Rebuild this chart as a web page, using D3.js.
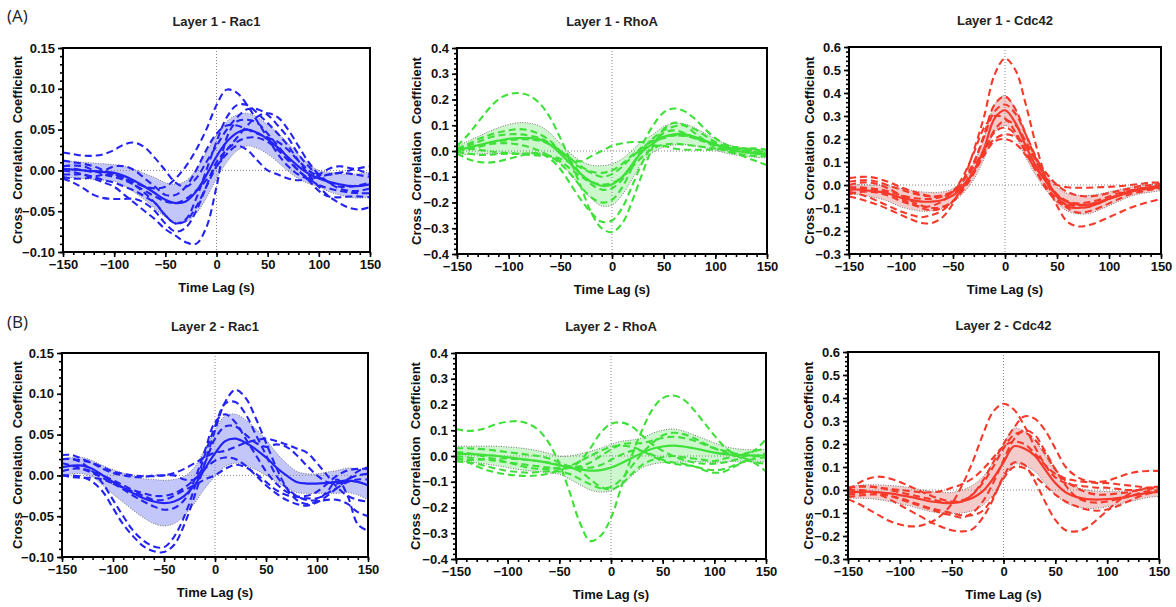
<!DOCTYPE html>
<html><head><meta charset="utf-8">
<script src="https://cdn.jsdelivr.net/npm/d3@7"></script>
<style>body{margin:0;background:#fff}svg{display:block}text{font-family:"Liberation Sans",Arial,sans-serif}</style>
</head><body>
<svg id="chart" width="1176" height="607"></svg>
<script>
// ---------- data ----------
const lags = [-150,-140,-130,-120,-110,-100,-90,-80,-70,-60,-50,-40,-30,-20,-10,0,10,20,30,40,50,60,70,80,90,100,110,120,130,140,150];
const xTicks = [-150,-100,-50,0,50,100,150];
const yTicksRac1 = [-0.10,-0.05,0.00,0.05,0.10,0.15];
const yTicksRhoA = [-0.4,-0.3,-0.2,-0.1,0.0,0.1,0.2,0.3,0.4];
const yTicksCdc42 = [-0.3,-0.2,-0.1,0.0,0.1,0.2,0.3,0.4,0.5,0.6];
const titles = ["Layer 1 - Rac1","Layer 1 - RhoA","Layer 1 - Cdc42","Layer 2 - Rac1","Layer 2 - RhoA","Layer 2 - Cdc42"];
const rowLabels = ["(A)","(B)"];

// Layer 1 - Rac1
const l1Rac1Mean = [0.002,0.001,0.0,-0.001,-0.002,-0.003,-0.007,-0.013,-0.02,-0.028,-0.036,-0.04,-0.038,-0.026,-0.006,0.017,0.035,0.046,0.05,0.046,0.038,0.028,0.016,0.005,-0.004,-0.01,-0.014,-0.017,-0.019,-0.019,-0.017];
const l1Rac1Sd = [0.01,0.01,0.01,0.01,0.01,0.01,0.012,0.014,0.016,0.019,0.021,0.023,0.025,0.027,0.028,0.027,0.025,0.022,0.02,0.019,0.018,0.018,0.017,0.015,0.012,0.01,0.012,0.013,0.014,0.015,0.015];
const l1Rac1Traces = [
  [0.0,-0.002,-0.005,-0.01,-0.015,-0.02,-0.03,-0.04,-0.05,-0.06,-0.072,-0.08,-0.088,-0.09,-0.07,-0.02,0.04,0.06,0.062,0.058,0.045,0.03,0.015,0.0,-0.01,-0.018,-0.022,-0.025,-0.027,-0.028,-0.028],
  [-0.008,-0.01,-0.01,-0.008,-0.005,-0.005,-0.01,-0.015,-0.02,-0.022,-0.02,-0.01,0.005,0.025,0.05,0.08,0.099,0.095,0.08,0.06,0.04,0.02,0.005,-0.005,-0.01,-0.008,-0.005,-0.003,-0.004,-0.006,-0.008],
  [0.022,0.02,0.018,0.018,0.02,0.025,0.032,0.034,0.028,0.015,0.0,-0.015,-0.02,-0.01,0.01,0.03,0.05,0.065,0.075,0.075,0.068,0.055,0.04,0.02,0.005,-0.005,-0.005,-0.003,0.0,0.003,0.005],
  [-0.01,-0.015,-0.022,-0.03,-0.034,-0.035,-0.035,-0.035,-0.04,-0.05,-0.065,-0.075,-0.07,-0.05,-0.02,0.01,0.025,0.035,0.04,0.04,0.035,0.025,0.012,0.0,-0.012,-0.025,-0.032,-0.033,-0.032,-0.032,-0.033],
  [0.012,0.01,0.008,0.005,0.0,-0.005,-0.01,-0.018,-0.028,-0.04,-0.055,-0.065,-0.06,-0.035,0.0,0.035,0.065,0.08,0.08,0.07,0.058,0.045,0.03,0.012,-0.005,-0.02,-0.032,-0.04,-0.046,-0.048,-0.045],
  [0.005,0.006,0.005,0.0,-0.005,-0.008,-0.012,-0.018,-0.025,-0.032,-0.038,-0.04,-0.035,-0.025,-0.012,0.005,0.02,0.03,0.025,0.012,0.0,-0.005,-0.01,-0.012,-0.01,-0.005,0.002,0.005,0.003,0.0,-0.005],
  [-0.005,-0.005,-0.005,-0.008,-0.012,-0.015,-0.02,-0.025,-0.032,-0.04,-0.055,-0.065,-0.062,-0.045,-0.02,0.005,0.025,0.04,0.055,0.066,0.07,0.065,0.05,0.03,0.01,-0.005,-0.015,-0.022,-0.025,-0.025,-0.022],
  [0.0,0.002,0.0,-0.002,0.0,0.005,0.005,0.0,-0.01,-0.02,-0.03,-0.03,-0.02,0.0,0.025,0.045,0.055,0.055,0.05,0.045,0.04,0.035,0.025,0.012,0.0,-0.008,-0.015,-0.02,-0.02,-0.018,-0.015]
];

// Layer 1 - RhoA
const l1RhoAMean = [0.0,0.012,0.022,0.032,0.04,0.047,0.05,0.05,0.045,0.025,-0.01,-0.05,-0.09,-0.12,-0.135,-0.13,-0.1,-0.05,0.0,0.03,0.055,0.065,0.065,0.055,0.04,0.025,0.01,0.0,-0.005,-0.01,-0.012];
const l1RhoASd = [0.018,0.025,0.033,0.042,0.05,0.056,0.06,0.058,0.052,0.045,0.038,0.04,0.05,0.065,0.078,0.08,0.07,0.055,0.04,0.035,0.04,0.042,0.04,0.035,0.028,0.022,0.018,0.016,0.015,0.015,0.015];
const l1RhoATraces = [
  [0.02,0.06,0.11,0.16,0.2,0.22,0.225,0.215,0.185,0.13,0.05,-0.04,-0.14,-0.24,-0.3,-0.315,-0.28,-0.19,-0.08,0.02,0.085,0.11,0.1,0.07,0.04,0.015,0.0,-0.01,-0.015,-0.02,-0.02],
  [0.0,0.005,0.015,0.025,0.03,0.03,0.025,0.015,0.0,-0.02,-0.05,-0.09,-0.14,-0.18,-0.2,-0.19,-0.14,-0.06,0.03,0.1,0.15,0.165,0.155,0.125,0.085,0.05,0.025,0.01,0.0,-0.005,-0.005],
  [-0.01,-0.03,-0.042,-0.045,-0.04,-0.03,-0.02,-0.01,-0.01,-0.03,-0.07,-0.13,-0.19,-0.24,-0.275,-0.27,-0.22,-0.13,-0.04,0.03,0.07,0.08,0.07,0.05,0.035,0.02,0.005,-0.01,-0.025,-0.04,-0.055],
  [0.01,0.025,0.045,0.06,0.072,0.08,0.085,0.08,0.065,0.04,0.0,-0.03,-0.04,-0.02,0.0,0.02,0.03,0.035,0.035,0.04,0.05,0.06,0.06,0.05,0.04,0.025,0.015,0.01,0.005,0.0,-0.005],
  [-0.005,-0.01,-0.015,-0.015,-0.012,-0.01,-0.012,-0.015,-0.018,-0.02,-0.03,-0.045,-0.065,-0.085,-0.1,-0.09,-0.06,-0.02,0.01,0.02,0.02,0.01,0.005,0.005,0.005,0.005,0.01,0.01,0.01,0.01,0.005],
  [0.005,0.02,0.035,0.05,0.06,0.065,0.065,0.06,0.05,0.03,0.0,-0.04,-0.09,-0.13,-0.15,-0.145,-0.11,-0.05,0.01,0.05,0.08,0.095,0.1,0.085,0.06,0.035,0.015,0.005,0.0,-0.005,-0.01],
  [0.0,0.01,0.02,0.03,0.038,0.042,0.045,0.045,0.04,0.025,0.0,-0.03,-0.06,-0.08,-0.085,-0.075,-0.05,-0.015,0.015,0.04,0.055,0.06,0.058,0.05,0.04,0.03,0.02,0.015,0.01,0.005,0.0],
  [0.01,0.01,0.005,0.0,-0.005,-0.008,-0.01,-0.01,-0.012,-0.02,-0.04,-0.07,-0.1,-0.12,-0.13,-0.125,-0.1,-0.06,-0.02,0.01,0.025,0.028,0.025,0.02,0.015,0.01,0.005,0.0,-0.005,-0.01,-0.015]
];

// Layer 1 - Cdc42
const l1Cdc42Mean = [-0.02,-0.02,-0.025,-0.03,-0.04,-0.055,-0.065,-0.072,-0.072,-0.065,-0.045,-0.005,0.06,0.16,0.29,0.325,0.27,0.17,0.08,0.01,-0.045,-0.075,-0.085,-0.085,-0.075,-0.06,-0.045,-0.03,-0.02,-0.015,-0.01];
const l1Cdc42Sd = [0.02,0.022,0.025,0.03,0.035,0.04,0.042,0.042,0.04,0.035,0.03,0.03,0.035,0.045,0.06,0.065,0.06,0.05,0.04,0.035,0.035,0.038,0.04,0.04,0.035,0.03,0.025,0.02,0.018,0.016,0.015];
const l1Cdc42Traces = [
  [-0.05,-0.06,-0.075,-0.09,-0.11,-0.13,-0.15,-0.165,-0.165,-0.14,-0.08,0.02,0.15,0.3,0.48,0.55,0.5,0.35,0.17,0.02,-0.09,-0.16,-0.18,-0.175,-0.16,-0.14,-0.12,-0.1,-0.085,-0.072,-0.06],
  [0.03,0.035,0.035,0.025,0.01,-0.01,-0.025,-0.04,-0.05,-0.05,-0.035,0.0,0.06,0.13,0.19,0.2,0.18,0.13,0.07,0.025,0.0,-0.01,-0.012,-0.012,-0.01,-0.008,-0.005,0.0,0.005,0.01,0.01],
  [-0.01,-0.01,-0.015,-0.025,-0.04,-0.06,-0.08,-0.1,-0.11,-0.1,-0.07,-0.01,0.09,0.22,0.35,0.385,0.33,0.22,0.11,0.02,-0.05,-0.09,-0.1,-0.095,-0.08,-0.06,-0.045,-0.03,-0.02,-0.01,-0.005],
  [-0.03,-0.04,-0.055,-0.075,-0.095,-0.115,-0.13,-0.14,-0.13,-0.11,-0.07,-0.01,0.06,0.15,0.23,0.25,0.22,0.14,0.06,-0.01,-0.06,-0.085,-0.09,-0.085,-0.075,-0.06,-0.045,-0.03,-0.02,-0.01,0.0],
  [-0.02,-0.015,-0.015,-0.02,-0.03,-0.045,-0.055,-0.06,-0.06,-0.05,-0.03,0.02,0.1,0.21,0.32,0.35,0.31,0.22,0.12,0.03,-0.05,-0.1,-0.12,-0.115,-0.1,-0.08,-0.06,-0.04,-0.03,-0.02,-0.015],
  [0.0,0.01,0.01,0.0,-0.02,-0.045,-0.07,-0.09,-0.1,-0.095,-0.07,-0.02,0.05,0.14,0.24,0.28,0.26,0.19,0.1,0.02,-0.04,-0.07,-0.08,-0.075,-0.065,-0.05,-0.035,-0.025,-0.015,-0.01,-0.01],
  [-0.04,-0.03,-0.03,-0.035,-0.05,-0.07,-0.085,-0.095,-0.09,-0.07,-0.03,0.04,0.14,0.25,0.3,0.29,0.23,0.15,0.06,-0.02,-0.07,-0.095,-0.1,-0.095,-0.08,-0.06,-0.04,-0.025,-0.015,-0.01,-0.01],
  [0.015,0.02,0.02,0.01,-0.005,-0.02,-0.035,-0.045,-0.05,-0.045,-0.025,0.02,0.08,0.15,0.2,0.22,0.21,0.17,0.11,0.05,0.0,-0.03,-0.045,-0.05,-0.045,-0.035,-0.025,-0.015,-0.005,0.0,0.005]
];

// Layer 2 - Rac1
const l2Rac1Mean = [0.01,0.012,0.012,0.008,0.0,-0.008,-0.015,-0.022,-0.028,-0.032,-0.034,-0.032,-0.025,-0.012,0.008,0.027,0.042,0.045,0.04,0.032,0.022,0.01,0.0,-0.008,-0.01,-0.01,-0.009,-0.008,-0.006,-0.008,-0.012];
const l2Rac1Sd = [0.01,0.01,0.01,0.01,0.012,0.015,0.018,0.021,0.024,0.027,0.028,0.027,0.024,0.022,0.024,0.028,0.031,0.03,0.028,0.025,0.022,0.018,0.015,0.013,0.012,0.012,0.013,0.014,0.015,0.016,0.018];
const l2Rac1Traces = [
  [0.0,0.0,-0.002,-0.008,-0.02,-0.04,-0.06,-0.075,-0.087,-0.093,-0.094,-0.085,-0.06,-0.025,0.015,0.055,0.09,0.105,0.095,0.07,0.04,0.01,-0.015,-0.03,-0.035,-0.032,-0.03,-0.03,-0.035,-0.045,-0.05],
  [0.02,0.02,0.015,0.005,-0.01,-0.03,-0.05,-0.068,-0.08,-0.087,-0.088,-0.075,-0.05,-0.015,0.025,0.06,0.088,0.09,0.075,0.05,0.025,0.0,-0.015,-0.025,-0.03,-0.03,-0.02,-0.005,-0.025,-0.06,-0.068],
  [0.025,0.025,0.02,0.015,0.008,0.003,0.0,-0.002,-0.002,0.0,0.0,0.003,0.008,0.015,0.022,0.028,0.03,0.035,0.04,0.043,0.045,0.042,0.038,0.033,0.028,0.015,0.0,-0.015,-0.025,-0.03,-0.032],
  [0.0,-0.002,-0.003,-0.003,-0.005,-0.01,-0.015,-0.02,-0.025,-0.03,-0.03,-0.025,-0.018,-0.012,-0.005,0.0,0.008,0.013,0.01,0.002,-0.008,-0.018,-0.024,-0.026,-0.025,-0.02,-0.01,0.0,0.006,0.008,0.008],
  [0.015,0.012,0.008,0.003,-0.003,-0.01,-0.017,-0.025,-0.032,-0.038,-0.042,-0.04,-0.03,-0.005,0.03,0.065,0.075,0.065,0.045,0.025,0.005,-0.01,-0.02,-0.026,-0.028,-0.028,-0.022,-0.015,-0.008,-0.005,-0.005],
  [0.005,0.008,0.008,0.005,0.0,-0.006,-0.012,-0.018,-0.022,-0.025,-0.025,-0.022,-0.015,-0.005,0.008,0.018,0.022,0.02,0.012,0.0,-0.012,-0.022,-0.03,-0.035,-0.037,-0.033,-0.025,-0.015,-0.005,0.0,0.002],
  [0.02,0.02,0.018,0.015,0.01,0.005,0.002,0.0,-0.001,-0.001,0.0,0.0,-0.005,-0.005,0.015,0.045,0.06,0.06,0.05,0.04,0.035,0.038,0.035,0.025,0.012,0.0,-0.008,-0.01,-0.005,0.005,0.01]
];

// Layer 2 - RhoA
const l2RhoAMean = [0.008,0.008,0.006,0.003,0.0,-0.005,-0.01,-0.015,-0.02,-0.028,-0.036,-0.045,-0.052,-0.057,-0.055,-0.045,-0.028,-0.008,0.012,0.028,0.037,0.04,0.037,0.03,0.022,0.013,0.007,0.004,0.003,0.002,0.002];
const l2RhoASd = [0.03,0.03,0.032,0.035,0.038,0.04,0.042,0.042,0.04,0.038,0.035,0.045,0.06,0.075,0.085,0.09,0.085,0.07,0.058,0.06,0.063,0.065,0.06,0.052,0.045,0.038,0.03,0.025,0.022,0.022,0.024];
const l2RhoATraces = [
  [0.105,0.098,0.1,0.11,0.125,0.133,0.135,0.125,0.1,0.05,-0.03,-0.14,-0.26,-0.33,-0.31,-0.24,-0.12,0.0,0.1,0.18,0.225,0.235,0.22,0.18,0.13,0.08,0.035,0.005,-0.015,-0.025,-0.03],
  [0.0,-0.005,-0.01,-0.015,-0.02,-0.025,-0.03,-0.035,-0.04,-0.045,-0.05,-0.045,-0.02,0.03,0.09,0.125,0.13,0.115,0.08,0.045,0.02,0.0,-0.015,-0.025,-0.03,-0.03,-0.025,-0.015,0.0,0.025,0.065],
  [-0.02,-0.025,-0.03,-0.04,-0.05,-0.058,-0.062,-0.065,-0.062,-0.058,-0.06,-0.07,-0.09,-0.11,-0.125,-0.12,-0.09,-0.04,0.01,0.05,0.08,0.09,0.085,0.07,0.05,0.03,0.015,0.005,-0.01,-0.03,-0.06],
  [-0.005,-0.02,-0.04,-0.055,-0.065,-0.072,-0.076,-0.078,-0.075,-0.068,-0.055,-0.04,-0.02,0.0,0.02,0.035,0.04,0.035,0.02,0.0,-0.02,-0.03,-0.035,-0.04,-0.05,-0.055,-0.05,-0.035,-0.02,-0.01,-0.005],
  [0.03,0.03,0.028,0.025,0.02,0.015,0.01,0.005,0.0,-0.01,-0.025,-0.04,-0.04,-0.025,0.0,0.025,0.045,0.05,0.05,0.06,0.07,0.075,0.07,0.06,0.045,0.03,0.02,0.01,0.005,0.0,-0.005],
  [0.015,0.012,0.005,-0.005,-0.015,-0.025,-0.035,-0.045,-0.05,-0.05,-0.045,-0.045,-0.06,-0.09,-0.12,-0.13,-0.11,-0.07,-0.035,-0.015,-0.005,0.0,-0.005,-0.01,-0.015,-0.02,-0.01,0.0,0.01,0.02,0.03],
  [-0.01,-0.015,-0.015,-0.012,-0.01,-0.01,-0.012,-0.015,-0.02,-0.025,-0.035,-0.04,-0.045,-0.045,-0.035,-0.015,0.005,0.02,0.02,0.005,-0.015,-0.025,-0.03,-0.04,-0.055,-0.065,-0.06,-0.04,-0.02,0.0,0.01]
];

// Layer 2 - Cdc42
const l2Cdc42Mean = [-0.01,-0.008,-0.007,-0.01,-0.015,-0.022,-0.03,-0.04,-0.05,-0.055,-0.057,-0.05,-0.035,-0.005,0.05,0.12,0.19,0.18,0.15,0.09,0.03,-0.01,-0.03,-0.04,-0.042,-0.04,-0.035,-0.028,-0.02,-0.012,-0.008];
const l2Cdc42Sd = [0.025,0.028,0.03,0.032,0.035,0.038,0.04,0.042,0.044,0.045,0.046,0.05,0.055,0.062,0.07,0.075,0.078,0.075,0.068,0.06,0.05,0.045,0.042,0.04,0.037,0.033,0.028,0.024,0.022,0.02,0.02];
const l2Cdc42Traces = [
  [-0.04,-0.06,-0.085,-0.11,-0.135,-0.15,-0.158,-0.155,-0.14,-0.11,-0.06,0.02,0.12,0.24,0.34,0.375,0.35,0.28,0.19,0.11,0.055,0.03,0.02,0.015,0.01,0.01,0.005,0.0,0.0,0.005,0.01],
  [0.0,0.0,-0.005,-0.02,-0.04,-0.065,-0.09,-0.115,-0.14,-0.16,-0.175,-0.18,-0.17,-0.12,-0.04,0.06,0.12,0.11,0.04,-0.05,-0.13,-0.175,-0.18,-0.165,-0.13,-0.09,-0.05,-0.02,0.0,0.01,0.01],
  [0.01,0.015,0.015,0.01,0.0,-0.01,-0.02,-0.03,-0.04,-0.05,-0.055,-0.05,-0.02,0.04,0.12,0.2,0.27,0.32,0.31,0.26,0.18,0.1,0.06,0.04,0.035,0.04,0.055,0.07,0.08,0.083,0.083],
  [0.0,0.03,0.05,0.058,0.05,0.035,0.015,-0.005,-0.025,-0.04,-0.05,-0.045,-0.02,0.03,0.1,0.18,0.24,0.25,0.22,0.16,0.09,0.04,0.01,-0.01,-0.02,-0.02,-0.015,-0.01,0.0,0.01,0.015],
  [-0.03,-0.025,-0.02,-0.02,-0.025,-0.035,-0.05,-0.065,-0.08,-0.09,-0.1,-0.11,-0.11,-0.09,-0.03,0.05,0.1,0.095,0.06,0.02,-0.02,-0.05,-0.07,-0.085,-0.09,-0.085,-0.07,-0.05,-0.03,-0.015,-0.005],
  [-0.02,-0.015,-0.01,-0.015,-0.025,-0.04,-0.055,-0.07,-0.085,-0.1,-0.11,-0.12,-0.1,-0.05,0.03,0.13,0.22,0.26,0.24,0.17,0.09,0.02,-0.03,-0.05,-0.055,-0.05,-0.04,-0.03,-0.015,-0.005,0.0],
  [0.01,0.015,0.015,0.01,0.005,0.0,-0.005,-0.01,-0.01,-0.005,0.01,0.025,0.05,0.09,0.14,0.19,0.21,0.2,0.16,0.11,0.07,0.05,0.04,0.035,0.03,0.03,0.025,0.02,0.015,0.01,0.01]
];

// ---------- chart ----------
const colors = {rac:"#2323f5", rho:"#3fe03a", cdc:"#f5392b"};
const fills = {rac:"#c3c6f8", rho:"#ccf6cc", cdc:"#f4cbcb"};

const panels = [
  {title:titles[0], mean:l1Rac1Mean, sd:l1Rac1Sd, traces:l1Rac1Traces, yTicks:yTicksRac1, minor:0.01, fmt:".2f", k:"rac", L:63,  T:48,  W:307, H:204, yl:17},
  {title:titles[1], mean:l1RhoAMean, sd:l1RhoASd, traces:l1RhoATraces, yTicks:yTicksRhoA, minor:0.02, fmt:".1f", k:"rho", L:457, T:48,  W:310, H:206, yl:416},
  {title:titles[2], mean:l1Cdc42Mean, sd:l1Cdc42Sd, traces:l1Cdc42Traces, yTicks:yTicksCdc42, minor:0.02, fmt:".1f", k:"cdc", L:849, T:47,  W:312, H:207, yl:809},
  {title:titles[3], mean:l2Rac1Mean, sd:l2Rac1Sd, traces:l2Rac1Traces, yTicks:yTicksRac1, minor:0.01, fmt:".2f", k:"rac", L:62,  T:353, W:306, H:204, yl:17},
  {title:titles[4], mean:l2RhoAMean, sd:l2RhoASd, traces:l2RhoATraces, yTicks:yTicksRhoA, minor:0.02, fmt:".1f", k:"rho", L:456, T:353, W:310, H:206, yl:415},
  {title:titles[5], mean:l2Cdc42Mean, sd:l2Cdc42Sd, traces:l2Cdc42Traces, yTicks:yTicksCdc42, minor:0.02, fmt:".1f", k:"cdc", L:848, T:352, W:311, H:207, yl:808}
];

const svg = d3.select("#chart");

svg.append("text").attr("x",7).attr("y",22).attr("font-size",17).attr("fill","#222").text(rowLabels[0]).style("font-family","'Open Sans',sans-serif");
svg.append("text").attr("x",7).attr("y",328).attr("font-size",17).attr("fill","#222").text(rowLabels[1]).style("font-family","'Open Sans',sans-serif");

panels.forEach((p,i)=>{
  const x = d3.scaleLinear().domain([-150,150]).range([0,p.W]);
  const yd = d3.extent(p.yTicks);
  const y = d3.scaleLinear().domain(yd).range([p.H,0]);
  const g = svg.append("g").attr("transform",`translate(${p.L},${p.T})`);
  const cid = "clip"+i;
  g.append("clipPath").attr("id",cid).append("rect").attr("width",p.W).attr("height",p.H);
  const plot = g.append("g").attr("clip-path",`url(#${cid})`);

  const col = colors[p.k];
  const rows = lags.map((t,j)=>({t, m:p.mean[j], s:p.sd[j]}));
  const curve = d3.curveCatmullRom.alpha(0.5);

  // band
  const area = d3.area().x(d=>x(d.t)).y0(d=>y(d.m-d.s)).y1(d=>y(d.m+d.s)).curve(curve);
  plot.append("path").datum(rows).attr("d",area).attr("fill",fills[p.k]).attr("stroke","none");

  // reference lines
  plot.append("line").attr("x1",x(0)).attr("x2",x(0)).attr("y1",0).attr("y2",p.H)
    .attr("stroke","#888").attr("stroke-width",1).attr("stroke-dasharray","1,2");
  plot.append("line").attr("x1",0).attr("x2",p.W).attr("y1",y(0)).attr("y2",y(0))
    .attr("stroke","#888").attr("stroke-width",1).attr("stroke-dasharray","1,2");

  // band edges
  const edgeU = d3.line().x(d=>x(d.t)).y(d=>y(d.m+d.s)).curve(curve);
  const edgeL = d3.line().x(d=>x(d.t)).y(d=>y(d.m-d.s)).curve(curve);
  [edgeU,edgeL].forEach(fn=>plot.append("path").datum(rows).attr("d",fn).attr("fill","none")
    .attr("stroke","#777").attr("stroke-width",1).attr("stroke-dasharray","1,1.5"));

  // traces
  const tl = d3.line().x((d,j)=>x(lags[j])).y(d=>y(d)).curve(curve);
  p.traces.forEach(tr=>{
    plot.append("path").datum(tr).attr("d",tl).attr("fill","none").attr("stroke",col)
      .attr("stroke-width",2.1).attr("stroke-dasharray","7,4");
  });

  // mean
  const ml = d3.line().x(d=>x(d.t)).y(d=>y(d.m)).curve(curve);
  plot.append("path").datum(rows).attr("d",ml).attr("fill","none").attr("stroke",col).attr("stroke-width",2.2);

  // axes
  const xAxis = d3.axisBottom(x).tickValues(xTicks).tickSize(5).tickPadding(3).tickFormat(d3.format("d"));
  const xMinor = d3.axisBottom(x).tickValues(d3.range(-150,151,10)).tickSize(3).tickFormat("");
  const yAxis = d3.axisLeft(y).tickValues(p.yTicks).tickSize(5).tickPadding(3).tickFormat(d3.format(p.fmt));
  const nMinor = Math.round((yd[1]-yd[0])/p.minor);
  const yMinor = d3.axisLeft(y).tickValues(d3.range(0,nMinor+1).map(k=>yd[0]+k*p.minor)).tickSize(3).tickFormat("");

  const gx = g.append("g").attr("transform",`translate(0,${p.H})`);
  gx.append("g").call(xMinor);
  gx.append("g").call(xAxis);
  const gy = g.append("g");
  gy.append("g").call(yMinor);
  gy.append("g").call(yAxis);
  g.selectAll(".domain").remove();
  g.selectAll(".tick line").attr("stroke","#000").attr("stroke-width",1.6);
  g.selectAll(".tick text").attr("font-size",13).attr("font-weight","bold").attr("fill","#111")
    .style("font-family","'Liberation Sans',Arial,sans-serif");

  g.append("rect").attr("width",p.W).attr("height",p.H).attr("fill","none").attr("stroke","#000").attr("stroke-width",2);

  // titles
  g.append("text").attr("x",p.W/2).attr("y",-22).attr("text-anchor","middle")
    .attr("font-size",13).attr("font-weight","bold").attr("fill","#222").text(p.title);
  g.append("text").attr("x",p.W/2).attr("y",p.H+40).attr("text-anchor","middle")
    .attr("font-size",13).attr("font-weight","bold").attr("fill","#111").text("Time Lag (s)");
  svg.append("text").attr("transform",`translate(${p.yl},${p.T+p.H/2}) rotate(-90)`)
    .attr("text-anchor","middle").attr("dy","0.35em").attr("font-size",13).attr("font-weight","bold")
    .attr("fill","#111").style("white-space","pre").text("Cross  Correlation  Coefficient");
});
</script>
</body></html>
